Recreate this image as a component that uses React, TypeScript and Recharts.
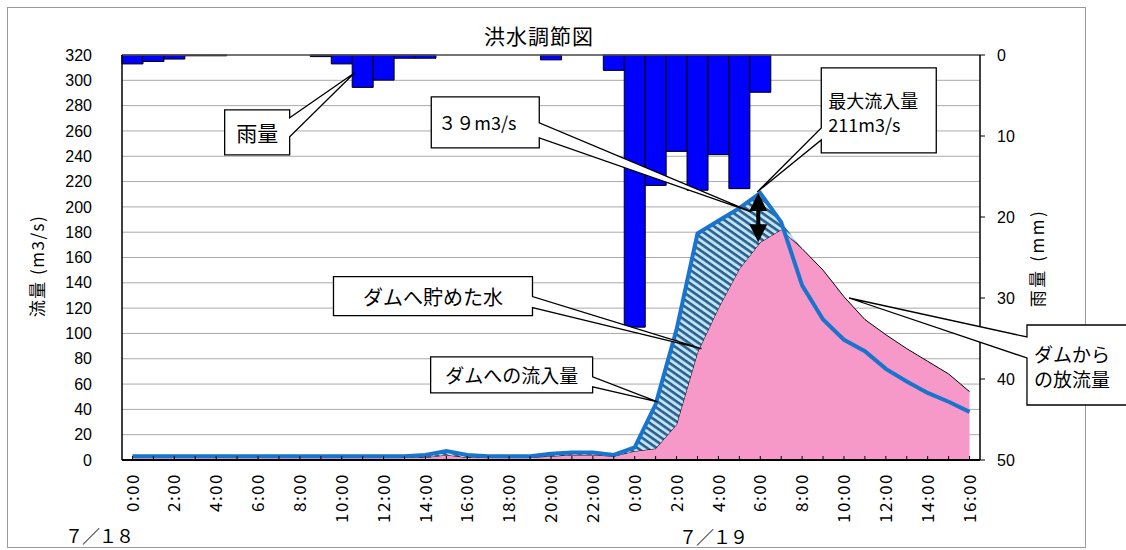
import React from 'react';
import {
  ComposedChart,
  Bar,
  Area,
  Line,
  XAxis,
  YAxis,
  CartesianGrid,
  ReferenceDot,
  ReferenceLine,
} from 'recharts';

// 7/18 0:00 から 7/19 16:00 まで1時間毎
const HOUR_LABELS = [
  '0:00', '1:00', '2:00', '3:00', '4:00', '5:00', '6:00', '7:00', '8:00', '9:00',
  '10:00', '11:00', '12:00', '13:00', '14:00', '15:00', '16:00', '17:00', '18:00', '19:00',
  '20:00', '21:00', '22:00', '23:00',
  '0:00', '1:00', '2:00', '3:00', '4:00', '5:00', '6:00', '7:00', '8:00', '9:00',
  '10:00', '11:00', '12:00', '13:00', '14:00', '15:00', '16:00',
];

// ダムへの流入量 (m3/s)
const INFLOW = [
  3, 3, 3, 3, 3, 3, 3, 3, 3, 3, 3, 3, 3, 3, 4, 7, 4, 3, 3, 3,
  5, 6, 6, 4, 10, 44, 103, 179, 189, 199, 211, 188, 138, 111, 95, 86, 72, 62, 53, 46, 38,
];

// ダムからの放流量 (m3/s)
const OUTFLOW = [
  2, 2, 2, 2, 2, 2, 2, 2, 2, 2, 2, 2, 2, 2, 2, 4, 2, 2, 2, 2,
  3, 4, 4, 3, 7, 9, 28, 85, 120, 151, 172, 182, 167, 150, 129, 111, 99, 88, 78, 68, 54,
];

// 雨量 (mm)
const RAIN = [
  1.1, 0.8, 0.5, 0.1, 0.1, 0, 0, 0, 0, 0.2, 1.1, 4.0, 3.1, 0.4, 0.4, 0, 0, 0, 0, 0,
  0.6, 0, 0, 1.9, 33.6, 16.1, 11.9, 16.7, 12.3, 16.5, 4.6, 0, 0, 0, 0, 0, 0, 0, 0, 0, 0,
];

const FLOW_TICKS = [0, 20, 40, 60, 80, 100, 120, 140, 160, 180, 200, 220, 240, 260, 280, 300, 320];
const RAIN_TICKS = [0, 10, 20, 30, 40, 50];

const data = HOUR_LABELS.map((label, i) => ({
  i,
  label,
  inflow: INFLOW[i],
  outflow: OUTFLOW[i],
  rain: RAIN[i],
  stored: [OUTFLOW[i], Math.max(INFLOW[i], OUTFLOW[i])],
}));

const JP = '"Noto Sans CJK JP", "Noto Sans", sans-serif';

type Callout = {
  x: number;
  y: number;
  axis: 'flow' | 'rain';
  tip: [number, number]; // tip offset from the anchor point (px)
  box: [number, number, number, number]; // box relative to tip
  side: 'left' | 'right';
  wedge: [number, number]; // wedge base along the side, from box top
  lines: string[];
  fontSize: number;
  align: 'middle' | 'start';
  textTop?: number;
  lineGap?: number;
};

const CALLOUTS: Callout[] = [
  { x: 11, y: 2.2, axis: 'rain', tip: [-8, 0], box: [-130, 37, 65, 45], side: 'right', wedge: [8, 27], lines: ['雨量'], fontSize: 21, align: 'middle' },
  { x: 30, y: 196, axis: 'flow', tip: [-9, 0], box: [-320, -115, 108, 51], side: 'right', wedge: [26, 41], lines: ['３９m3/s'], fontSize: 18, align: 'start' },
  { x: 30, y: 211, axis: 'flow', tip: [-3, -1], box: [64, -124, 115, 85], side: 'left', wedge: [60, 72], lines: ['最大流入量', '211m3/s'], fontSize: 18, align: 'start', textTop: 32, lineGap: 24 },
  { x: 27, y: 88, axis: 'flow', tip: [4, 0], box: [-368, -72, 199, 39], side: 'right', wedge: [20, 31], lines: ['ダムへ貯めた水'], fontSize: 20, align: 'middle' },
  { x: 25, y: 46, axis: 'flow', tip: [2, 0], box: [-227, -45, 162, 36], side: 'right', wedge: [20, 30], lines: ['ダムへの流入量'], fontSize: 19, align: 'middle' },
  { x: 34, y: 128, axis: 'flow', tip: [5, 0], box: [178, 27, 110, 80], side: 'left', wedge: [12, 33], lines: ['ダムから', 'の放流量'], fontSize: 19, align: 'start', textTop: 28, lineGap: 25 },
];

const calloutShape = (c: Callout) => (p: any) => {
  const tx = p.cx + c.tip[0];
  const ty = p.cy + c.tip[1];
  const x0 = tx + c.box[0];
  const y0 = ty + c.box[1];
  const w = c.box[2];
  const h = c.box[3];
  const [w1, w2] = c.wedge;
  const d =
    c.side === 'right'
      ? `M${x0},${y0} H${x0 + w} V${y0 + w1} L${tx},${ty} L${x0 + w},${y0 + w2} V${y0 + h} H${x0} Z`
      : `M${x0},${y0} H${x0 + w} V${y0 + h} H${x0} V${y0 + w2} L${tx},${ty} L${x0},${y0 + w1} Z`;
  const gap = c.lineGap ?? 0;
  const top = c.textTop ?? h / 2;
  return (
    <g>
      <path d={d} fill="#fff" stroke="#000" strokeWidth={1.3} />
      {c.lines.map((s, k) => (
        <text
          key={k}
          x={c.align === 'middle' ? x0 + w / 2 : x0 + 7}
          y={y0 + top + k * gap}
          textAnchor={c.align}
          dominantBaseline="central"
          fontSize={c.fontSize}
          fontFamily={JP}
          fill="#000"
        >
          {s}
        </text>
      ))}
    </g>
  );
};

const doubleArrow = (p: any) => {
  const { x1, y1, x2, y2 } = p;
  const x = (x1 + x2) / 2 - 2;
  const top = Math.min(y1, y2);
  const bot = Math.max(y1, y2);
  return (
    <g>
      <line x1={x} x2={x} y1={top + 14} y2={bot - 14} stroke="#000" strokeWidth={4} />
      <polygon points={`${x},${top} ${x - 9},${top + 18} ${x + 9},${top + 18}`} fill="#000" />
      <polygon points={`${x},${bot} ${x - 9},${bot - 18} ${x + 9},${bot - 18}`} fill="#000" />
    </g>
  );
};

const HourTick = (props: any) => {
  const { x, y, payload } = props;
  const i = payload.value as number;
  return (
    <g>
      <line x1={x} x2={x} y1={y - 17} y2={y - 13} stroke="#000" />
      {i % 2 === 0 && (
        <text
          x={x}
          y={y}
          dy="0.36em"
          textAnchor="end"
          transform={`rotate(-90 ${x} ${y})`}
          fontSize={17}
          letterSpacing={1.5}
          fontFamily={JP}
          fill="#000"
        >
          {HOUR_LABELS[i]}
        </text>
      )}
    </g>
  );
};

export default function App() {
  return (
    <div style={{ position: 'absolute', left: 0, top: 0, width: 1126, height: 550, background: '#fff', fontFamily: JP, overflow: 'hidden' }}>
      <svg width={1126} height={550} style={{ position: 'absolute', left: 0, top: 0 }}>
        <defs>
          <pattern id="hatch" patternUnits="userSpaceOnUse" width="5.5" height="5.5" patternTransform="rotate(35)">
            <rect width="5.5" height="5.5" fill="#bfe4f6" />
            <rect width="5.5" height="2.6" fill="#2c5f8e" />
          </pattern>
        </defs>
        <rect x={7.5} y={7.5} width={1078} height={540} fill="none" stroke="#9a9a9a" />
        <text x={539} y={35} textAnchor="middle" dominantBaseline="central" fontSize={21} letterSpacing={1} fill="#000">
          洪水調節図
        </text>
        <text x={36} y={266} textAnchor="middle" dominantBaseline="central" fontSize={17} letterSpacing={1.5} transform="rotate(-90 36 266)" fill="#000">
          流量 (m3/s)
        </text>
        <text x={1036} y={258} textAnchor="middle" dominantBaseline="central" fontSize={17} letterSpacing={2.5} transform="rotate(-90 1036 258)" fill="#000">
          雨量 (mm)
        </text>
        <text x={65} y={543} fontSize={18} fill="#000" letterSpacing={-1}>
          ７／１８
        </text>
        <text x={679} y={544} fontSize={18} fill="#000" letterSpacing={-1}>
          ７／１９
        </text>
      </svg>
      <div style={{ position: 'absolute', left: 0, top: 0 }}>
        <ComposedChart
          width={1126}
          height={550}
          data={data}
          margin={{ top: 55, right: 86, bottom: 0, left: 0 }}
          barCategoryGap={0}
          barGap={0}
        >
          <CartesianGrid yAxisId="flow" vertical={false} stroke="#aaaaaa" />
          <XAxis
            dataKey="i"
            type="category"
            interval={0}
            height={90}
            tickLine={false}
            tickSize={0}
            tickMargin={13}
            tick={HourTick}
            axisLine={{ stroke: '#000', strokeWidth: 2 }}
          />
          <YAxis
            yAxisId="flow"
            domain={[0, 320]}
            ticks={FLOW_TICKS}
            width={122}
            tickLine={false}
            tickSize={0}
            tickMargin={30}
            axisLine={{ stroke: '#000', strokeWidth: 1.5 }}
            tick={{ fill: '#000', fontSize: 16, fontFamily: '"Liberation Sans", sans-serif' }}
          />
          <YAxis
            yAxisId="rain"
            orientation="right"
            domain={[0, 50]}
            reversed
            ticks={RAIN_TICKS}
            width={60}
            tickSize={5}
            tickMargin={12}
            tickLine={{ stroke: '#000' }}
            axisLine={{ stroke: '#000', strokeWidth: 1.5 }}
            tick={{ fill: '#000', fontSize: 16, fontFamily: '"Liberation Sans", sans-serif', textAnchor: 'start' }}
          />
          <ReferenceLine yAxisId="flow" y={320} stroke="#555" strokeWidth={1.5} />
          <Bar yAxisId="rain" dataKey="rain" fill="#0000ff" stroke="#000" strokeWidth={1} isAnimationActive={false} />
          <Area
            yAxisId="flow"
            type="linear"
            dataKey="outflow"
            fill="#f799c8"
            fillOpacity={1}
            stroke="#000"
            strokeWidth={1}
            isAnimationActive={false}
          />
          <Area
            yAxisId="flow"
            type="linear"
            dataKey="stored"
            fill="url(#hatch)"
            fillOpacity={1}
            stroke="none"
            isAnimationActive={false}
          />
          <Line
            yAxisId="flow"
            type="linear"
            dataKey="inflow"
            stroke="#1874cd"
            strokeWidth={4}
            dot={false}
            isAnimationActive={false}
          />
          <ReferenceLine
            yAxisId="flow"
            segment={[{ x: 30, y: 211 }, { x: 30, y: OUTFLOW[30] }]}
            shape={doubleArrow}
          />
          {CALLOUTS.map((c, k) => (
            <ReferenceDot
              key={k}
              x={c.x}
              y={c.y}
              yAxisId={c.axis}
              r={0}
              shape={calloutShape(c)}
            />
          ))}
        </ComposedChart>
      </div>
    </div>
  );
}
